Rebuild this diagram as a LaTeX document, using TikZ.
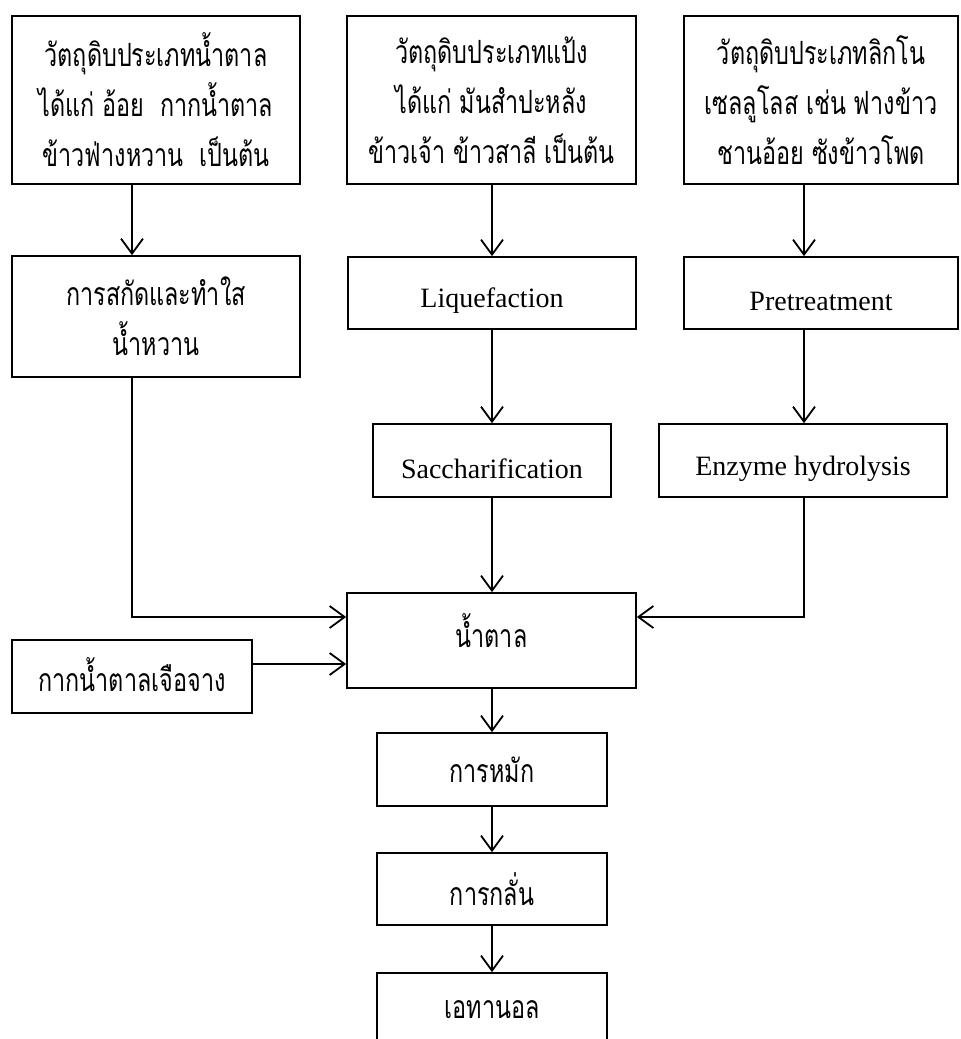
\documentclass[tikz,border=0pt]{standalone}
\usepackage{fontspec}
\setmainfont{Liberation Serif}
\newfontfamily\thai[Script=Thai,FakeStretch=0.73]{Loma}
\usetikzlibrary{arrows.meta}

% shift a label up or down without changing the size the node sees
\newcommand{\nudge}[2]{\raisebox{#1}[\height][\depth]{#2}}

\begin{document}
\begin{tikzpicture}[x=1pt,y=-1pt,
  box/.style={draw, line width=1.7pt, inner sep=0pt, align=center},
  th/.style={font=\thai\fontsize{32}{50}\selectfont},
  en/.style={font=\fontsize{28}{34}\selectfont},
  arr/.style={line width=1.8pt,
    -{Straight Barb[length=15pt,width=22pt,line width=1.8pt]}}]

\useasboundingbox (0,0) rectangle (961,1039);
\clip (0,0) rectangle (961,1039);

% column guides for the arrows
\coordinate (c1) at (132,0);
\coordinate (c2) at (492,0);
\coordinate (c3) at (804,0);

% raw materials
\node[box, th, minimum width=288pt, minimum height=168pt] (a1) at (156,100)
  {วัตถุดิบประเภทน้ำตาล\\ได้แก่ อ้อย\ \ กากน้ำตาล\\ข้าวฟ่างหวาน\ \ เป็นต้น};
\node[box, th, minimum width=289pt, minimum height=168pt] (b1) at (491.5,100)
  {วัตถุดิบประเภทแป้ง\\ได้แก่ มันสำปะหลัง\\ข้าวเจ้า ข้าวสาลี เป็นต้น};
\node[box, th, minimum width=274pt, minimum height=168pt] (c1b) at (821,100)
  {วัตถุดิบประเภทลิกโน\\เซลลูโลส เช่น ฟางข้าว\\ชานอ้อย ซังข้าวโพด};

% pre-processing
\node[box, th, minimum width=288pt, minimum height=121pt] (a2) at (156,316.5)
  {การสกัดและทำใส\\น้ำหวาน};
\node[box, en, minimum width=288pt, minimum height=72pt] (liq) at (492,293)
  {\nudge{-8pt}{Liquefaction}};
\node[box, en, minimum width=274pt, minimum height=72pt] (pre) at (821,293)
  {\nudge{-8pt}{Pretreatment}};
\node[box, en, minimum width=238pt, minimum height=73pt] (sac) at (492,460.5)
  {\nudge{-8pt}{Saccharification}};
\node[box, en, minimum width=288pt, minimum height=73pt] (enz) at (803,460.5)
  {\nudge{-8pt}{Enzyme hydrolysis}};

% sugar and downstream
\node[box, th, minimum width=289pt, minimum height=95pt] (sugar) at (491.5,640.5)
  {\nudge{10pt}{น้ำตาล}};
\node[box, th, minimum width=240pt, minimum height=73pt] (dil) at (132,676.5)
  {\nudge{2pt}{กากน้ำตาลเจือจาง}};
\node[box, th, minimum width=230pt, minimum height=73pt] (fer) at (492,769.5)
  {การหมัก};
\node[box, th, minimum width=230pt, minimum height=72pt] (dis) at (492,889)
  {การกลั่น};
\node[box, th, minimum width=230pt, minimum height=74pt] (eth) at (492,1010)
  {เอทานอล};

% connectors
\draw[arr] (a1.south -| c1) -- (a2.north -| c1);
\draw[arr] (a2.south -| c1) |- ([yshift=23.5pt]sugar.west);
\draw[arr] ([yshift=12.5pt]dil.east) -- ([yshift=12.5pt]dil.east -| sugar.west);

\draw[arr] (b1.south -| c2) -- (liq.north -| c2);
\draw[arr] (liq.south -| c2) -- (sac.north -| c2);
\draw[arr] (sac.south -| c2) -- (sugar.north -| c2);
\draw[arr] (sugar.south -| c2) -- (fer.north -| c2);
\draw[arr] (fer.south -| c2) -- (dis.north -| c2);
\draw[arr] (dis.south -| c2) -- (eth.north -| c2);

\draw[arr] (c1b.south -| c3) -- (pre.north -| c3);
\draw[arr] (pre.south -| c3) -- (enz.north -| c3);
\draw[arr] (enz.south -| c3) |- ([yshift=23.5pt]sugar.east);

\end{tikzpicture}
\end{document}
